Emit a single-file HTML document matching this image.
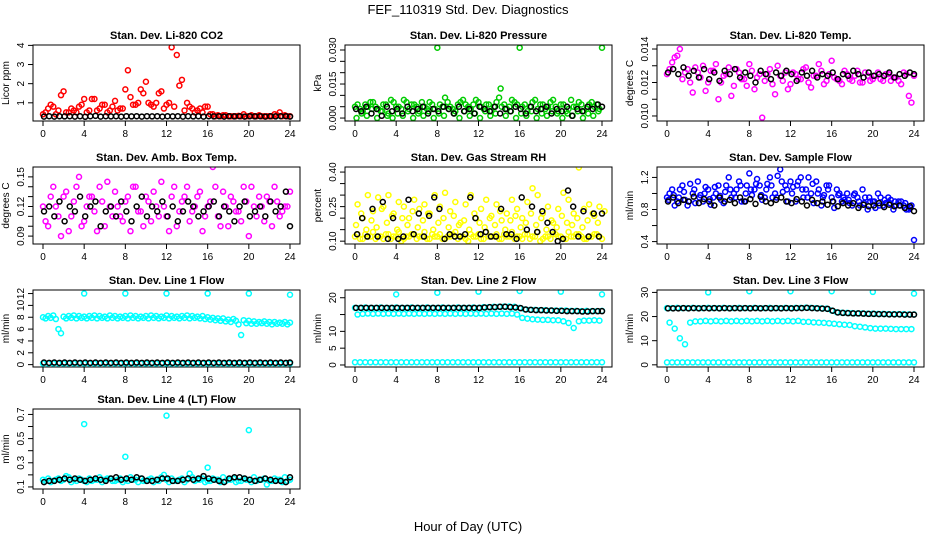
<!DOCTYPE html>
<html><head><meta charset="utf-8"><style>
html,body{margin:0;padding:0;background:#fff;}
svg{display:block;font-family:"Liberation Sans",sans-serif;}
</style></head><body>
<svg id="chart" width="936" height="540" viewBox="0 0 936 540">
<text x="468" y="14" text-anchor="middle" font-size="13">FEF_110319  Std. Dev. Diagnostics</text>
<text x="468" y="531" text-anchor="middle" font-size="13">Hour of Day (UTC)</text>
</svg>
<script>
const xTicks = [0,4,8,12,16,20,24];
const co2A = [0.4,0.7,0.8,0.6,1.6,0.5,0.6,0.8,1.2,0.6,1.2,0.7,0.9,0.6,1.1,0.7,1.7,1.3,0.9,1.7,2.1,0.9,1.0,1.6,0.9,3.9,3.5,2.2,1.0,0.7,0.6,0.5,0.8,0.4,0.35,0.35,0.3,0.3,0.32,0.4,0.3,0.3,0.35,0.3,0.3,0.4,0.5,0.35,0.3];
const co2B = [0.5,0.9,0.4,1.4,0.5,0.7,0.5,0.9,0.5,1.2,0.6,0.9,0.5,0.8,0.6,0.7,2.7,0.9,1.0,1.5,1.0,0.8,1.5,0.7,1.0,0.8,1.9,0.6,0.8,0.5,0.7,0.8,0.4,0.3,0.3,0.35,0.3,0.3,0.3,0.3,0.35,0.3,0.3,0.3,0.3,0.35,0.3,0.3];
const co2K = [0.28,0.3,0.28,0.3,0.29,0.3,0.28,0.3,0.27,0.3,0.32,0.28,0.3,0.29,0.3,0.28,0.3,0.29,0.3,0.28,0.3,0.29,0.3,0.28,0.3,0.29,0.3,0.28,0.3,0.29,0.3,0.28,0.3,0.29,0.3,0.28,0.3,0.29,0.3,0.28,0.3,0.29,0.3,0.28,0.3,0.29,0.3,0.3,0.28];
const presA = [0.005,0.004,0.006,0.007,0.005,0.003,0.006,0.008,0.005,0.004,0.007,0.006,0.005,0.007,0.004,0.006,0.031,0.005,0.007,0.004,0.006,0.008,0.005,0.006,0.007,0.004,0.006,0.005,0.009,0.006,0.005,0.007,0.031,0.006,0.005,0.008,0.006,0.004,0.007,0.005,0.006,0.003,0.008,0.005,0.006,0.004,0.007,0.006,0.031];
const presB = [0.006,0.003,0.005,0.007,0.004,0.006,0.002,0.007,0.005,0.008,0.004,0.006,0.003,0.005,0.007,0.004,0.006,0.009,0.005,0.003,0.007,0.006,0.004,0.008,0.005,0.006,0.003,0.007,0.005,0.004,0.008,0.006,0.005,0.003,0.007,0.004,0.006,0.005,0.008,0.003,0.006,0.004,0.005,0.007,0.003,0.006,0.005,0.004];
const presC = [0.000,0.002,0.001,0.004,0.000,0.003,0.001,0.000,0.002,0.001,0.003,0.000,0.002,0.001,0.003,0.000,0.002,0.001,0.004,0.002,0.000,0.003,0.001,0.002,0.000,0.003,0.001,0.002,0.013,0.001,0.003,0.000,0.002,0.001,0.003,0.000,0.002,0.001,0.003,0.002,0.000,0.002,0.001,0.003,0.000,0.002,0.001,0.003];
const presK = [0.004,0.003,0.005,0.002,0.004,0.001,0.005,0.003,0.004,0.002,0.005,0.003,0.004,0.005,0.002,0.004,0.003,0.005,0.004,0.002,0.005,0.003,0.004,0.002,0.005,0.004,0.003,0.005,0.002,0.004,0.003,0.005,0.004,0.002,0.005,0.003,0.004,0.005,0.002,0.004,0.003,0.005,0.001,0.004,0.003,0.005,0.004,0.006,0.005];
const tempA = [0.0125,0.0132,0.0136,0.0122,0.0128,0.0114,0.0126,0.0130,0.0120,0.0127,0.0110,0.0124,0.0129,0.0118,0.0126,0.0122,0.0131,0.0116,0.0125,0.0121,0.0128,0.0113,0.0124,0.0126,0.0119,0.0125,0.0122,0.0129,0.0117,0.0124,0.0127,0.0121,0.0133,0.0122,0.0119,0.0125,0.0121,0.0127,0.0120,0.0124,0.0122,0.0126,0.0121,0.0125,0.0123,0.0121,0.0126,0.0112,0.0124];
const tempB = [0.0128,0.0135,0.0140,0.0126,0.0120,0.0129,0.0123,0.0115,0.0127,0.0131,0.0120,0.0125,0.0112,0.0128,0.0122,0.0118,0.0127,0.0123,0.0099,0.0125,0.0119,0.0130,0.0121,0.0116,0.0126,0.0122,0.0128,0.0120,0.0124,0.0131,0.0119,0.0125,0.0123,0.0121,0.0127,0.0122,0.0124,0.0120,0.0126,0.0121,0.0124,0.0122,0.0125,0.0121,0.0123,0.0119,0.0125,0.0108];
const tempK = [0.0126,0.0128,0.0125,0.0129,0.0124,0.0127,0.0123,0.0128,0.0122,0.0126,0.0121,0.0127,0.0125,0.0128,0.0123,0.0126,0.0124,0.0120,0.0127,0.0125,0.0122,0.0126,0.0124,0.0127,0.0125,0.0121,0.0126,0.0124,0.0127,0.0123,0.0125,0.0124,0.0126,0.0122,0.0125,0.0124,0.0127,0.0125,0.0123,0.0126,0.0124,0.0125,0.0124,0.0126,0.0123,0.0125,0.0124,0.0126,0.0125];
const ambA = [0.12,0.10,0.14,0.11,0.13,0.095,0.125,0.15,0.105,0.13,0.115,0.14,0.10,0.12,0.135,0.11,0.125,0.095,0.14,0.115,0.13,0.105,0.12,0.145,0.11,0.13,0.10,0.125,0.14,0.115,0.13,0.095,0.12,0.16,0.11,0.135,0.10,0.125,0.115,0.14,0.09,0.12,0.13,0.105,0.125,0.14,0.11,0.12,0.135];
const ambB = [0.105,0.13,0.12,0.09,0.135,0.11,0.14,0.10,0.12,0.13,0.095,0.125,0.145,0.11,0.12,0.105,0.13,0.14,0.115,0.10,0.125,0.135,0.11,0.12,0.095,0.14,0.115,0.13,0.105,0.12,0.135,0.11,0.125,0.14,0.10,0.12,0.13,0.115,0.105,0.125,0.14,0.11,0.12,0.13,0.10,0.125,0.115,0.12];
const ambK = [0.115,0.12,0.11,0.125,0.105,0.12,0.115,0.13,0.11,0.12,0.125,0.10,0.115,0.12,0.11,0.125,0.115,0.105,0.12,0.13,0.11,0.12,0.115,0.125,0.11,0.12,0.105,0.115,0.125,0.12,0.11,0.115,0.12,0.125,0.11,0.12,0.115,0.105,0.12,0.125,0.11,0.115,0.12,0.11,0.125,0.115,0.12,0.135,0.10];
const rhA = [0.12,0.11,0.13,0.12,0.11,0.12,0.13,0.11,0.12,0.10,0.12,0.13,0.11,0.12,0.11,0.13,0.12,0.11,0.12,0.13,0.11,0.12,0.10,0.12,0.13,0.11,0.12,0.12,0.11,0.13,0.12,0.11,0.12,0.13,0.11,0.12,0.10,0.12,0.11,0.13,0.12,0.11,0.12,0.13,0.12,0.11,0.12,0.13,0.11];
const rhB = [0.26,0.20,0.30,0.23,0.29,0.25,0.30,0.22,0.27,0.25,0.20,0.28,0.24,0.26,0.22,0.30,0.25,0.31,0.23,0.27,0.18,0.26,0.30,0.20,0.24,0.28,0.21,0.26,0.19,0.22,0.28,0.24,0.20,0.27,0.33,0.30,0.22,0.25,0.18,0.24,0.31,0.28,0.22,0.42,0.24,0.26,0.21,0.25,0.23];
const rhC = [0.17,0.22,0.15,0.19,0.16,0.24,0.18,0.21,0.15,0.20,0.17,0.23,0.16,0.19,0.22,0.15,0.18,0.20,0.16,0.21,0.17,0.19,0.15,0.22,0.18,0.16,0.20,0.17,0.23,0.15,0.19,0.21,0.16,0.18,0.22,0.17,0.20,0.15,0.19,0.16,0.21,0.18,0.17,0.20,0.16,0.19,0.22,0.18];
const rhD = [0.13,0.11,0.12,0.14,0.12,0.11,0.13,0.12,0.14,0.11,0.12,0.13,0.12,0.14,0.11,0.12,0.13,0.11,0.12,0.14,0.12,0.11,0.13,0.12,0.11,0.14,0.12,0.13,0.11,0.12,0.14,0.12,0.11,0.13,0.12,0.14,0.11,0.12,0.13,0.12,0.11,0.14,0.12,0.13,0.11,0.12,0.13,0.12];
const rhK = [0.13,0.20,0.12,0.24,0.12,0.27,0.11,0.20,0.11,0.12,0.28,0.13,0.22,0.12,0.21,0.29,0.24,0.11,0.13,0.12,0.12,0.13,0.29,0.20,0.13,0.14,0.12,0.12,0.24,0.13,0.13,0.11,0.29,0.15,0.25,0.14,0.23,0.18,0.14,0.10,0.11,0.32,0.25,0.12,0.23,0.12,0.22,0.12,0.22];
const sfA = [0.95,1.05,0.9,1.1,0.85,1.0,1.15,0.9,1.05,0.95,1.1,0.88,1.2,1.0,1.15,0.9,1.25,1.05,1.1,0.95,1.2,1.0,1.3,1.1,1.15,0.9,1.2,1.05,1.0,1.15,0.85,1.1,0.95,1.05,0.9,1.0,0.85,0.95,1.05,0.8,0.9,1.0,0.85,0.95,0.8,0.9,0.85,0.8,0.42];
const sfB = [1.0,0.85,1.05,0.92,1.12,0.88,0.98,1.08,0.86,1.0,0.92,1.1,0.95,1.05,0.9,1.1,0.98,1.18,0.92,1.12,0.95,1.22,1.02,0.9,1.08,1.15,0.95,1.2,0.88,1.05,0.98,1.1,0.82,1.0,0.92,0.88,1.0,0.85,0.95,0.9,0.82,0.95,0.88,0.92,0.85,0.9,0.8,0.85];
const sfC = [0.92,0.98,0.95,1.02,0.9,1.05,0.95,1.0,0.93,1.08,0.97,1.02,1.05,0.95,1.1,1.0,1.05,1.12,0.98,1.05,1.1,0.95,1.15,1.05,1.0,1.1,1.05,0.95,1.12,1.0,0.95,1.05,0.9,0.98,0.95,0.92,0.98,0.9,0.88,0.95,0.9,0.85,0.92,0.88,0.9,0.85,0.88,0.82];
const sfK = [0.9,0.95,0.88,0.92,0.9,0.96,0.88,0.93,0.9,0.85,0.95,0.9,0.92,0.88,0.95,0.9,0.93,0.87,0.96,0.9,0.88,0.92,0.95,0.9,0.88,0.93,0.9,0.85,0.92,0.88,0.9,0.86,0.9,0.84,0.88,0.85,0.88,0.82,0.86,0.84,0.85,0.88,0.83,0.86,0.84,0.85,0.82,0.84,0.78];
const l1A = [8.0,8.2,8.3,6.0,8.1,8.2,8.3,8.2,8.1,8.2,8.3,8.2,8.1,8.3,8.2,8.1,8.2,8.3,8.2,8.1,8.2,8.3,8.2,8.1,8.3,8.2,8.1,8.2,8.3,8.2,8.1,8.2,8.0,7.9,7.8,7.8,7.6,7.7,6.8,7.5,7.4,7.3,7.2,7.3,7.2,7.2,7.1,7.2,7.1];
const l1B = [7.8,7.9,7.7,5.3,7.8,7.9,7.8,7.9,7.8,7.9,7.8,7.9,7.8,7.9,7.8,7.9,7.8,7.9,7.8,7.9,7.8,7.9,7.8,7.9,7.8,7.9,7.8,7.9,7.8,7.9,7.8,7.7,7.6,7.5,7.4,7.3,7.2,7.4,5.0,7.0,6.9,6.9,7.0,6.9,6.8,6.9,6.9,6.8];
const l1Low = [0.2,0.2,0.2,0.2,0.2,0.2,0.2,0.2,0.2,0.2,0.2,0.2,0.2,0.2,0.2,0.2,0.2,0.2,0.2,0.2,0.2,0.2,0.2,0.2,0.2,0.2,0.2,0.2,0.2,0.2,0.2,0.2,0.2,0.2,0.2,0.2,0.2,0.2,0.2,0.2,0.2,0.2,0.2,0.2,0.2,0.2,0.2,0.2,0.2];
const l1K = [0.35,0.3,0.35,0.3,0.35,0.3,0.35,0.3,0.35,0.3,0.35,0.3,0.35,0.3,0.35,0.3,0.35,0.3,0.35,0.3,0.35,0.3,0.35,0.3,0.35,0.3,0.35,0.3,0.35,0.3,0.35,0.3,0.35,0.3,0.35,0.3,0.35,0.3,0.35,0.3,0.35,0.3,0.35,0.3,0.35,0.3,0.35,0.3,0.35];
const outHours = [4,8,12,16,20,24];
const l1Out = [12,12,12,12,12,11.8];
const l2A = [17.0,17.0,17.1,17.0,17.0,17.1,17.0,17.0,17.1,17.0,17.0,17.1,17.0,17.0,17.1,17.0,17.0,17.1,17.0,17.0,17.1,17.0,17.0,17.1,17.0,17.2,17.2,17.3,17.3,17.4,17.4,17.3,17.0,16.5,16.4,16.4,16.3,16.3,16.2,16.2,16.2,16.2,16.1,16.1,16.0,16.1,16.0,16.0,16.1];
const l2B = [15.0,15.2,15.3,15.2,15.3,15.2,15.3,15.2,15.3,15.2,15.3,15.2,15.3,15.2,15.3,15.2,15.3,15.2,15.3,15.2,15.3,15.2,15.3,15.2,15.3,15.2,15.3,15.2,15.3,15.2,15.3,15.0,14.0,13.8,13.6,13.5,13.4,13.4,13.3,13.3,13.0,12.5,11.0,13.0,13.2,13.2,13.3,13.2];
const l2Low = [0.8,0.8,0.8,0.8,0.8,0.8,0.8,0.8,0.8,0.8,0.8,0.8,0.8,0.8,0.8,0.8,0.8,0.8,0.8,0.8,0.8,0.8,0.8,0.8,0.8,0.8,0.8,0.8,0.8,0.8,0.8,0.8,0.8,0.8,0.8,0.8,0.8,0.8,0.8,0.8,0.8,0.8,0.8,0.8,0.8,0.8,0.8,0.8,0.8];
const l2K = [17.0,17.0,17.0,17.0,17.0,17.0,17.0,17.0,17.0,17.0,17.0,17.0,17.0,17.0,17.0,17.0,17.0,17.0,17.0,17.0,17.0,17.0,17.0,17.0,17.0,17.1,17.2,17.2,17.3,17.3,17.2,17.1,16.9,16.5,16.4,16.3,16.3,16.2,16.2,16.1,16.1,16.0,16.0,16.0,15.9,15.9,16.0,16.0,16.0];
const l2Out = [21,21.5,21.8,22,21.8,21];
const l3A = [23.5,23.5,23.6,23.5,23.5,23.6,23.5,23.5,23.6,23.5,23.5,23.6,23.5,23.5,23.6,23.5,23.5,23.6,23.5,23.5,23.6,23.5,23.5,23.6,23.5,23.6,23.6,23.7,23.6,23.5,23.4,23.3,22.5,21.8,21.6,21.5,21.4,21.3,21.3,21.2,21.2,21.1,21.1,21.0,21.0,21.0,21.0,20.9,20.9];
const l3B = [17.5,15.0,11.0,8.5,17.5,18.0,18.0,18.2,18.0,18.2,18.0,18.2,18.0,18.2,18.0,18.2,18.0,18.2,18.0,18.2,18.0,18.2,18.0,18.2,18.0,18.2,17.8,17.8,17.6,17.5,17.4,17.2,17.0,16.8,16.6,16.5,16.0,15.8,15.5,15.2,15.0,15.0,15.0,14.9,14.8,14.8,14.8,14.8];
const l3Low = [1.0,1.0,1.0,1.0,1.0,1.0,1.0,1.0,1.0,1.0,1.0,1.0,1.0,1.0,1.0,1.0,1.0,1.0,1.0,1.0,1.0,1.0,1.0,1.0,1.0,1.0,1.0,1.0,1.0,1.0,1.0,1.0,1.0,1.0,1.0,1.0,1.0,1.0,1.0,1.0,1.0,1.0,1.0,1.0,1.0,1.0,1.0,1.0,1.0];
const l3K = [23.4,23.4,23.4,23.5,23.4,23.5,23.4,23.5,23.4,23.5,23.4,23.5,23.4,23.5,23.4,23.5,23.4,23.5,23.4,23.5,23.4,23.5,23.4,23.5,23.4,23.5,23.5,23.6,23.5,23.4,23.3,23.2,22.4,21.7,21.5,21.4,21.3,21.3,21.2,21.1,21.1,21.0,21.0,20.9,20.9,20.9,20.8,20.8,20.8];
const l3Out = [30,30.5,30.5,30.5,30.2,29.5];
const l4A = [0.16,0.17,0.15,0.17,0.16,0.18,0.16,0.17,0.15,0.17,0.16,0.18,0.16,0.17,0.15,0.17,0.16,0.18,0.16,0.17,0.15,0.17,0.16,0.18,0.16,0.17,0.15,0.17,0.16,0.18,0.16,0.17,0.15,0.17,0.16,0.18,0.16,0.17,0.15,0.17,0.16,0.18,0.16,0.17,0.15,0.17,0.16,0.18,0.16];
const l4B = [0.15,0.14,0.16,0.15,0.19,0.14,0.15,0.16,0.14,0.15,0.16,0.14,0.17,0.15,0.16,0.14,0.15,0.16,0.14,0.15,0.16,0.14,0.15,0.20,0.14,0.15,0.16,0.14,0.21,0.15,0.16,0.14,0.15,0.16,0.14,0.15,0.16,0.14,0.15,0.16,0.14,0.15,0.16,0.12,0.15,0.16,0.14,0.15];
const l4K = [0.14,0.15,0.15,0.16,0.17,0.16,0.17,0.16,0.15,0.16,0.17,0.16,0.15,0.17,0.18,0.16,0.17,0.16,0.18,0.17,0.15,0.15,0.16,0.17,0.17,0.15,0.15,0.16,0.17,0.16,0.17,0.19,0.17,0.16,0.15,0.14,0.17,0.18,0.18,0.17,0.16,0.15,0.16,0.17,0.16,0.15,0.15,0.14,0.18];
const l4OutHours = [4,8,12,16,20];
const l4Out = [0.62,0.35,0.69,0.26,0.57];

const RED='#ff0000',GRN='#00cc00',MAG='#ff00ff',YEL='#ffff00',BLU='#0000ff',CYN='#00ffff',BLK='#000000';
const panels = [
 {name:'co2',col:0,row:0,title:'Stan. Dev. Li-820 CO2',ylab:'Licor ppm',ymin:0.05,ymax:4.02,ticks:[1,2,3,4],labs:['1','2','3','4'],
  series:[[co2A,0,RED],[co2B,0.25,RED],[co2K,0.1,BLK]]},
 {name:'pressure',col:1,row:0,title:'Stan. Dev. Li-820 Pressure',ylab:'kPa',ymin:-0.0013,ymax:0.0322,ticks:[0,0.005,0.01,0.015,0.02,0.025,0.03],labs:['0.000','','','0.015','','','0.030'],
  series:[[presA,0,GRN],[presB,0.25,GRN],[presC,0.15,GRN],[presK,0.1,BLK]]},
 {name:'li820-temp',col:2,row:0,title:'Stan. Dev. Li-820 Temp.',ylab:'degrees C',ymin:0.0097,ymax:0.01424,ticks:[0.010,0.011,0.012,0.013,0.014],labs:['0.010','','0.012','','0.014'],
  series:[[tempA,0,MAG],[tempB,0.25,MAG],[tempK,0.1,BLK]]},
 {name:'amb-box-temp',col:0,row:1,title:'Stan. Dev. Amb. Box Temp.',ylab:'degrees C',ymin:0.082,ymax:0.160,ticks:[0.09,0.10,0.11,0.12,0.13,0.14,0.15],labs:['0.09','','','0.12','','','0.15'],
  series:[[ambA,0,MAG],[ambB,0.25,MAG],[ambK,0.1,BLK]]},
 {name:'gas-stream-rh',col:1,row:1,title:'Stan. Dev. Gas Stream RH',ylab:'percent',ymin:0.0877,ymax:0.422,ticks:[0.10,0.15,0.20,0.25,0.30,0.35,0.40],labs:['0.10','','','0.25','','','0.40'],
  series:[[rhA,0,YEL],[rhD,0.25,YEL],[rhB,0.25,YEL],[rhC,0.1,YEL],[rhK,0.2,BLK]]},
 {name:'sample-flow',col:2,row:1,title:'Stan. Dev. Sample Flow',ylab:'ml/min',ymin:0.37,ymax:1.33,ticks:[0.4,0.6,0.8,1.0,1.2],labs:['0.4','','0.8','','1.2'],
  series:[[sfA,0,BLU],[sfB,0.25,BLU],[sfC,0.15,BLU],[sfK,0.1,BLK]]},
 {name:'line1-flow',col:0,row:2,title:'Stan. Dev. Line 1 Flow',ylab:'ml/min',ymin:-0.4,ymax:12.6,ticks:[0,2,4,6,8,10,12],labs:['0','2','4','6','8','10','12'],
  series:[[l1A,0,CYN],[l1B,0.25,CYN],[l1Low,0,CYN],[l1K,0.1,BLK]],out:[outHours,l1Out]},
 {name:'line2-flow',col:1,row:2,title:'Stan. Dev. Line 2 Flow',ylab:'ml/min',ymin:-0.6,ymax:22.3,ticks:[0,5,10,15,20],labs:['0','5','10','','20'],
  series:[[l2A,0,CYN],[l2B,0.25,CYN],[l2Low,0,CYN],[l2K,0.1,BLK]],out:[outHours,l2Out]},
 {name:'line3-flow',col:2,row:2,title:'Stan. Dev. Line 3 Flow',ylab:'ml/min',ymin:-0.9,ymax:31,ticks:[0,10,20,30],labs:['0','10','20','30'],
  series:[[l3A,0,CYN],[l3B,0.25,CYN],[l3Low,0,CYN],[l3K,0.1,BLK]],out:[outHours,l3Out]},
 {name:'line4-flow',col:0,row:3,title:'Stan. Dev. Line 4 (LT) Flow',ylab:'ml/min',ymin:0.083,ymax:0.745,ticks:[0.1,0.2,0.3,0.4,0.5,0.6,0.7],labs:['0.1','','0.3','','0.5','','0.7'],
  series:[[l4A,0,CYN],[l4B,0.25,CYN],[l4K,0.1,BLK]],out:[l4OutHours,l4Out]}
];
const colLeft=[33,345,657], boxW=267;
const rowTop=[45,167,290,409], rowBot=[121,244,367,489];
const NS='http://www.w3.org/2000/svg';
const svg=document.getElementById('chart');
function mk(tag,attrs,parent){const e=document.createElementNS(NS,tag);for(const k in attrs)e.setAttribute(k,attrs[k]);(parent||svg).appendChild(e);return e;}
panels.forEach(p=>{
  const L=colLeft[p.col], R=L+boxW, T=rowTop[p.row], B=rowBot[p.row];
  const xs=h=>L+10+h*(boxW-20)/24;
  const ys=v=>B-(v-p.ymin)/(p.ymax-p.ymin)*(B-T);
  const g=mk('g',{});
  
  
  const t=mk('text',{x:(L+R)/2,y:T-6,'text-anchor':'middle','font-size':'11','font-weight':'bold'},g);
  t.textContent=p.title;
  
  
  const cp='clip-'+p.name;
  const cl=mk('clipPath',{id:cp},g); mk('rect',{x:L,y:T,width:boxW,height:B-T},cl);
  const marks=mk('g',{'clip-path':'url(#'+cp+')'},g);
  const drawPt=(h,v,c)=>{
    const m=mk('circle',{cx:xs(h),cy:ys(v),r:2.5,fill:'none',stroke:c,'stroke-width':1.5},marks);
    
    
  };
  const col=p.series.filter(s=>s[2]!==BLK), blk=p.series.filter(s=>s[2]===BLK);
  col.forEach(s=>s[0].forEach((v,i)=>drawPt(s[1]+i*0.5,v,s[2])));
  if(p.out) p.out[0].forEach((h,i)=>drawPt(h,p.out[1][i],CYN));
  blk.forEach(s=>s[0].forEach((v,i)=>drawPt(Math.min(24,s[1]+i*0.5),v,s[2])));
  const box=mk('rect',{x:L,y:T,width:boxW,height:B-T,fill:'none',stroke:'#000','stroke-width':1},g);
  
  
  mk('line',{x1:xs(0),x2:xs(24),y1:B,y2:B,stroke:'#000'},g);
  xTicks.forEach(h=>{
    mk('line',{x1:xs(h),x2:xs(h),y1:B,y2:B+5,stroke:'#000'},g);
    const tl=mk('text',{x:xs(h),y:B+16,'text-anchor':'middle','font-size':'10'},g);
    tl.textContent=h;
    
    
  });
  p.ticks.forEach((v,i)=>{
    const y=ys(v);
    mk('line',{x1:L,x2:L-5,y1:y,y2:y,stroke:'#000'},g);
    if(p.labs[i]){
      const yl=mk('text',{x:L-9,y:y,'text-anchor':'middle','font-size':'10',transform:'rotate(-90 '+(L-9)+' '+y+')'},g);
      yl.textContent=p.labs[i];
      
      
    }
  });
  const yt=mk('text',{x:L-24,y:(T+B)/2,'text-anchor':'middle','font-size':'10',transform:'rotate(-90 '+(L-24)+' '+((T+B)/2)+')'},g);
  yt.textContent=p.ylab;
  
  
});
</script>
</body></html>
